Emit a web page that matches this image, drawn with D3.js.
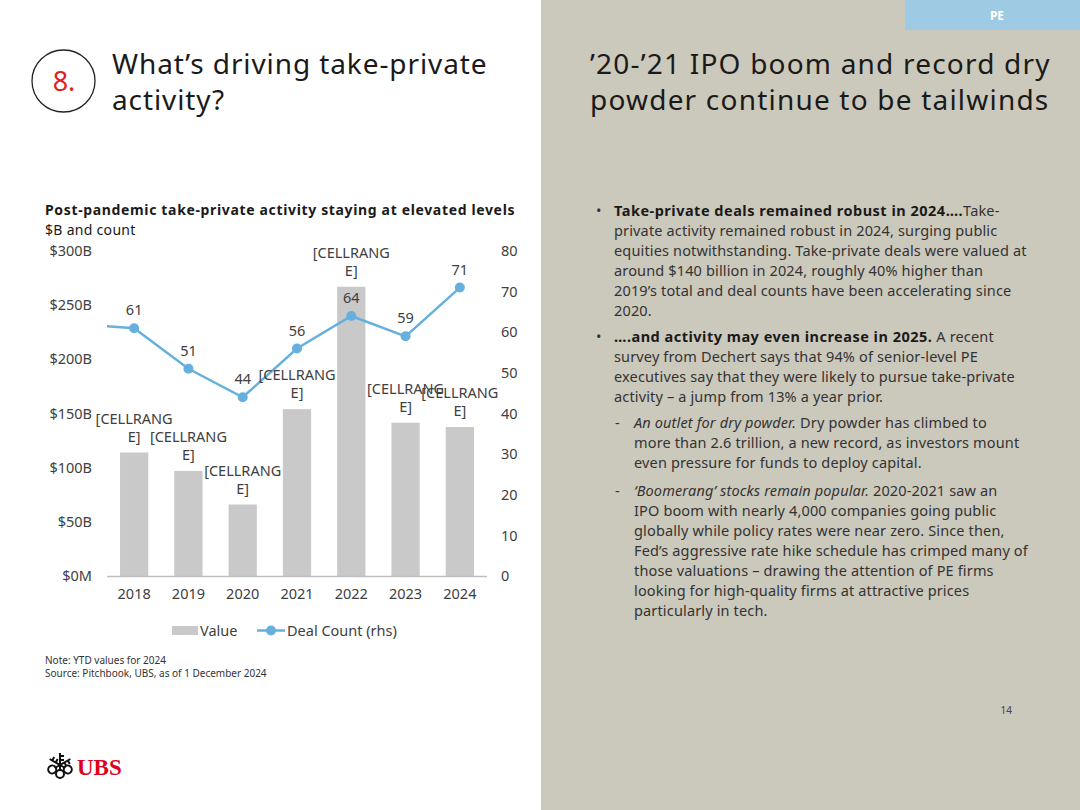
<!DOCTYPE html>
<html>
<head>
<meta charset="utf-8">
<script src="https://cdn.jsdelivr.net/npm/d3@7"></script>
<style>
  body { margin: 0; background: #fff; }
  svg { display: block; font-family: "Noto Sans", "Open Sans", sans-serif; }
</style>
</head>
<body>
<div id="page"></div>
<script>
// ============================= Datos del grafico =========================//
var years = ["2018", "2019", "2020", "2021", "2022", "2023", "2024"];
var values = [114, 97, 66, 154, 267, 141.5, 137.5];   // $B
var counts = [61, 51, 44, 56, 64, 59, 71];            // deal count (rhs)
var priorCount = 62;                                  // 2017, clipped at the plot edge
var valueLabels = ["[CELLRANGE]", "[CELLRANGE]", "[CELLRANGE]", "[CELLRANGE]", "[CELLRANGE]", "[CELLRANGE]", "[CELLRANGE]"];
var leftTicks = [0, 50, 100, 150, 200, 250, 300];
var rightTicks = [0, 10, 20, 30, 40, 50, 60, 70, 80];

var W = 1080, H = 810;
var textColor = "#404040";
var barColor = "#c9c9c9";
var lineColor = "#66b0dd";

var svg = d3.select("#page").append("svg")
  .attr("width", W)
  .attr("height", H);

// ============================= Fondo y encabezados =========================//
svg.append("rect").attr("x", 0).attr("y", 0).attr("width", 541).attr("height", H).attr("fill", "#fff");
svg.append("rect").attr("x", 541).attr("y", 0).attr("width", W - 541).attr("height", H).attr("fill", "#cbc8bc");
svg.append("rect").attr("x", 905).attr("y", 0).attr("width", W - 905).attr("height", 30).attr("fill", "#9ecbe3");
svg.append("text").attr("x", 997).attr("y", 20).attr("text-anchor", "middle")
  .attr("fill", "#fff").attr("font-size", 12).attr("font-weight", "bold").text("PE");

svg.append("ellipse").attr("cx", 63.5).attr("cy", 81).attr("rx", 31.5).attr("ry", 31)
  .attr("fill", "none").attr("stroke", "#222").attr("stroke-width", 1.3);
svg.append("text").attr("x", 64).attr("y", 91).attr("text-anchor", "middle")
  .attr("fill", "#e0201b").attr("font-size", 27).text("8.");

var titleL = ["What\u2019s driving take-private", "activity?"];
svg.append("g").selectAll("text").data(titleL).enter().append("text")
  .attr("x", 112).attr("y", function(d, i) { return 74 + i * 36; })
  .attr("letter-spacing", 0.9)
  .attr("fill", "#1a1a1a").attr("font-size", 28).text(function(d) { return d; });

var titleR = ["\u201920-\u201921 IPO boom and record dry", "powder continue to be tailwinds"];
svg.append("g").selectAll("text").data(titleR).enter().append("text")
  .attr("x", 590).attr("y", function(d, i) { return 74 + i * 36; })
  .attr("letter-spacing", 1.2)
  .attr("fill", "#1a1a1a").attr("font-size", 28).text(function(d) { return d; });

// ============================= Titulo del grafico =========================//
svg.append("text").attr("x", 45).attr("y", 215).attr("font-size", 14).attr("font-weight", "bold")
  .attr("letter-spacing", 0.65)
  .attr("fill", "#1a1a1a").text("Post-pandemic take-private activity staying at elevated levels");
svg.append("text").attr("x", 45).attr("y", 235).attr("font-size", 14).attr("letter-spacing", 0.3)
  .attr("fill", "#1a1a1a").text("$B and count");

// ============================= Escalas =========================//
var x = d3.scaleBand().domain(years).range([107, 487]).paddingInner(0.48).paddingOuter(0.24);
var yL = d3.scaleLinear().domain([0, 300]).range([576, 251]);
var yR = d3.scaleLinear().domain([0, 80]).range([576, 251]);
var cx = function(d, i) { return x(years[i]) + x.bandwidth() / 2; };

// ejes
var axisL = svg.append("g").attr("transform", "translate(107,0)")
  .call(d3.axisLeft(yL).tickValues(leftTicks).tickSize(0).tickPadding(15)
    .tickFormat(function(d) { return d === 0 ? "$0M" : "$" + d + "B"; }));
var axisR = svg.append("g").attr("transform", "translate(487,0)")
  .call(d3.axisRight(yR).tickValues(rightTicks).tickSize(0).tickPadding(14));
var axisX = svg.append("g").attr("transform", "translate(0,576)")
  .call(d3.axisBottom(x).tickSize(0).tickPadding(13));
[axisL, axisR, axisX].forEach(function(a) {
  a.select(".domain").remove();
  a.selectAll("text").attr("font-size", 14.5).attr("fill", textColor)
    .style("font-family", "\"Noto Sans\", \"Open Sans\", sans-serif");
});

// barras
svg.append("g").selectAll("rect").data(values).enter().append("rect")
  .attr("x", function(d, i) { return x(years[i]); })
  .attr("y", function(d) { return yL(d); })
  .attr("width", x.bandwidth())
  .attr("height", function(d) { return yL(0) - yL(d); })
  .attr("fill", barColor);

svg.append("line").attr("x1", 107).attr("x2", 487).attr("y1", 576.5).attr("y2", 576.5)
  .attr("stroke", "#bfbfbf").attr("stroke-width", 1.5);

// linea de deal count (con el punto 2017 recortado en el borde)
svg.append("clipPath").attr("id", "plotclip").append("rect")
  .attr("x", 107).attr("y", 200).attr("width", 380).attr("height", 400);
var linePts = [[cx(null, 0) - x.step(), yR(priorCount)]].concat(counts.map(function(d, i) { return [cx(d, i), yR(d)]; }));
svg.append("path").datum(linePts)
  .attr("clip-path", "url(#plotclip)")
  .attr("d", d3.line())
  .attr("fill", "none").attr("stroke", lineColor).attr("stroke-width", 2.5);
svg.append("g").selectAll("circle").data(counts).enter().append("circle")
  .attr("cx", cx).attr("cy", function(d) { return yR(d); }).attr("r", 5)
  .attr("fill", lineColor);

// etiquetas de count
svg.append("g").selectAll("text").data(counts).enter().append("text")
  .attr("x", cx).attr("y", function(d) { return yR(d) - 13; })
  .attr("text-anchor", "middle").attr("font-size", 14.5).attr("fill", textColor)
  .text(function(d) { return d; });

// etiquetas de valor (texto partido en dos lineas como en el original)
var vl = svg.append("g").selectAll("text").data(valueLabels).enter().append("text")
  .attr("text-anchor", "middle").attr("font-size", 14.5).attr("fill", textColor);
vl.append("tspan").attr("x", cx).attr("y", function(d, i) { return yL(values[i]) - 29; })
  .text(function(d) { return d.slice(0, 9); });
vl.append("tspan").attr("x", cx).attr("y", function(d, i) { return yL(values[i]) - 11; })
  .text(function(d) { return d.slice(9); });

// leyenda
svg.append("rect").attr("x", 172).attr("y", 626).attr("width", 26).attr("height", 9).attr("fill", barColor);
svg.append("text").attr("x", 200).attr("y", 636).attr("font-size", 14.5).attr("fill", textColor).text("Value");
svg.append("line").attr("x1", 257).attr("x2", 285).attr("y1", 630.5).attr("y2", 630.5)
  .attr("stroke", lineColor).attr("stroke-width", 2.5);
svg.append("circle").attr("cx", 271).attr("cy", 630.5).attr("r", 5).attr("fill", lineColor);
svg.append("text").attr("x", 287).attr("y", 636).attr("font-size", 14.5).attr("fill", textColor).text("Deal Count (rhs)");

// notas
svg.append("text").attr("x", 45).attr("y", 664).attr("font-size", 10).attr("fill", "#333").text("Note: YTD values for 2024");
svg.append("text").attr("x", 45).attr("y", 677).attr("font-size", 10).attr("fill", "#333").text("Source: Pitchbook, UBS, as of 1 December 2024");

// ============================= Texto de la derecha =========================//
var bodyColor = "#333";
var paras = [
  { mark: "\u2022", mx: 596, tx: 614, y: 216, lines: [
    [["b", "Take-private deals remained robust in 2024\u2026."], ["n", "Take-"]],
    [["n", "private activity remained robust in 2024, surging public"]],
    [["n", "equities notwithstanding. Take-private deals were valued at"]],
    [["n", "around $140 billion in 2024, roughly 40% higher than"]],
    [["n", "2019\u2019s total and deal counts have been accelerating since"]],
    [["n", "2020."]]
  ]},
  { mark: "\u2022", mx: 596, tx: 614, y: 342, lines: [
    [["b", "\u2026.and activity may even increase in 2025."], ["n", " A recent"]],
    [["n", "survey from Dechert says that 94% of senior-level PE"]],
    [["n", "executives say that they were likely to pursue take-private"]],
    [["n", "activity \u2013 a jump from 13% a year prior."]]
  ]},
  { mark: "-", mx: 615, tx: 634, y: 428, lines: [
    [["i", "An outlet for dry powder."], ["n", " Dry powder has climbed to"]],
    [["n", "more than 2.6 trillion, a new record, as investors mount"]],
    [["n", "even pressure for funds to deploy capital."]]
  ]},
  { mark: "-", mx: 615, tx: 634, y: 496, lines: [
    [["i", "\u2018Boomerang\u2019 stocks remain popular."], ["n", " 2020-2021 saw an"]],
    [["n", "IPO boom with nearly 4,000 companies going public"]],
    [["n", "globally while policy rates were near zero. Since then,"]],
    [["n", "Fed\u2019s aggressive rate hike schedule has crimped many of"]],
    [["n", "those valuations \u2013 drawing the attention of PE firms"]],
    [["n", "looking for high-quality firms at attractive prices"]],
    [["n", "particularly in tech."]]
  ]}
];

paras.forEach(function(p) {
  svg.append("text").attr("x", p.mx).attr("y", p.y).attr("font-size", 14.5).attr("fill", bodyColor).text(p.mark);
  p.lines.forEach(function(segs, li) {
    var t = svg.append("text").attr("x", p.tx).attr("y", p.y + li * 20)
      .attr("font-size", 14.5).attr("fill", bodyColor).attr("letter-spacing", 0.15)
      .attr("xml:space", "preserve");
    segs.forEach(function(s) {
      var sp = t.append("tspan").text(s[1]);
      if (s[0] === "b") sp.attr("font-weight", "bold").attr("fill", "#1a1a1a").attr("letter-spacing", 0.5);
      if (s[0] === "i") sp.attr("font-style", "italic");
    });
  });
});

svg.append("text").attr("x", 1012).attr("y", 714).attr("text-anchor", "end").attr("font-size", 10)
  .attr("fill", "#444").text("14");

// ============================= Logo UBS =========================//
var logo = svg.append("g").attr("transform", "translate(60,765)").attr("stroke", "#111").attr("fill", "none").attr("stroke-width", 2);
[-60, 0, 60].forEach(function(a) {
  var k = logo.append("g").attr("transform", "rotate(" + a + ")");
  k.append("line").attr("x1", 0).attr("y1", -12).attr("x2", 0).attr("y2", 6);
  k.append("circle").attr("cx", 0).attr("cy", 9).attr("r", 4);
  k.append("line").attr("x1", 0).attr("y1", -9).attr("x2", 4).attr("y2", -9);
  k.append("line").attr("x1", 0).attr("y1", -5).attr("x2", 4).attr("y2", -5);
});
svg.append("text").attr("x", 77).attr("y", 775).attr("font-family", "\"Liberation Serif\", serif")
  .attr("font-size", 23).attr("font-weight", "bold").attr("fill", "#e0001b").text("UBS");
</script>
</body>
</html>
